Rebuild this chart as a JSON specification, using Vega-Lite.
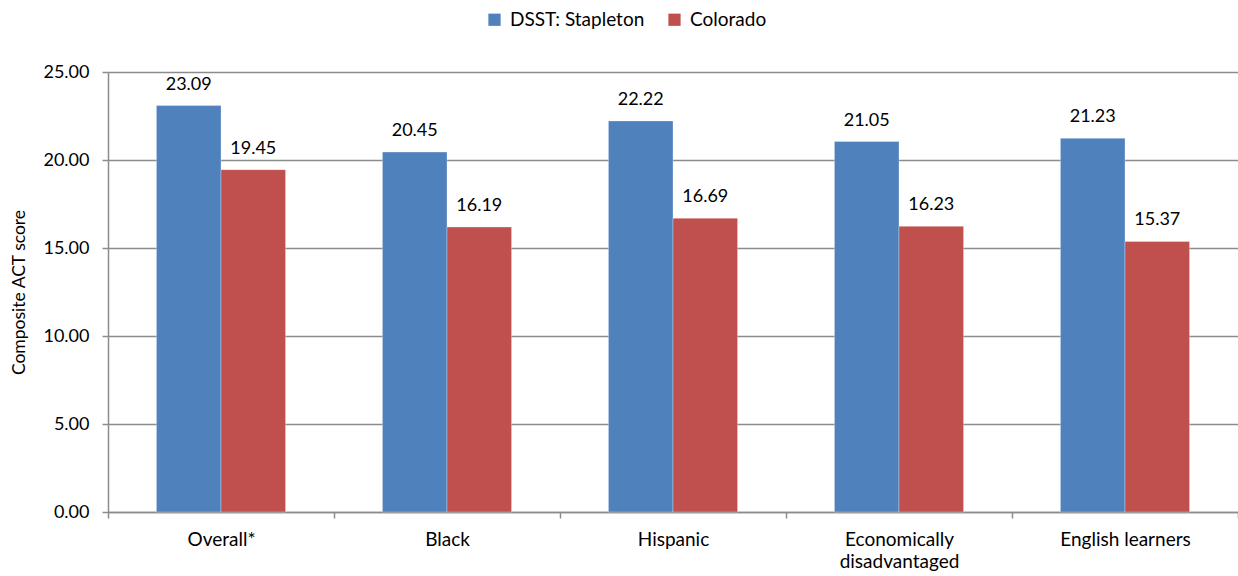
{
  "$schema": "https://vega.github.io/schema/vega-lite/v6.json",
  "width": 1130,
  "height": 440,
  "autosize": {"type": "none"},
  "padding": {"left": 108, "top": 72, "right": 0, "bottom": 64},
  "background": "white",
  "config": {
    "view": {"stroke": null},
    "font": "Lato",
    "text": {"font": "Lato"}
  },
  "data": {
    "values": [
      {"group": "Overall*", "series": "DSST: Stapleton", "score": 23.09},
      {"group": "Overall*", "series": "Colorado", "score": 19.45},
      {"group": "Black", "series": "DSST: Stapleton", "score": 20.45},
      {"group": "Black", "series": "Colorado", "score": 16.19},
      {"group": "Hispanic", "series": "DSST: Stapleton", "score": 22.22},
      {"group": "Hispanic", "series": "Colorado", "score": 16.69},
      {"group": "Economically disadvantaged", "series": "DSST: Stapleton", "score": 21.05},
      {"group": "Economically disadvantaged", "series": "Colorado", "score": 16.23},
      {"group": "English learners", "series": "DSST: Stapleton", "score": 21.23},
      {"group": "English learners", "series": "Colorado", "score": 15.37}
    ]
  },
  "encoding": {
    "x": {
      "field": "group",
      "type": "nominal",
      "sort": ["Overall*", "Black", "Hispanic", "Economically disadvantaged", "English learners"],
      "scale": {"paddingInner": 0, "paddingOuter": 0},
      "axis": {
        "title": null,
        "labelAngle": 0,
        "labelFont": "Lato",
        "labelFontSize": 19,
        "labelColor": "#000000",
        "labelPadding": 12,
        "labelLineHeight": 22,
        "labelExpr": "datum.label == 'Economically disadvantaged' ? ['Economically', 'disadvantaged'] : datum.label",
        "domainColor": "#8c8c8c",
        "domainWidth": 1.5,
        "tickColor": "#8c8c8c",
        "tickWidth": 1.5,
        "tickSize": 6,
        "tickBand": "extent",
        "grid": false
      }
    },
    "xOffset": {
      "field": "series",
      "type": "nominal",
      "sort": ["DSST: Stapleton", "Colorado"],
      "scale": {"paddingInner": 0, "paddingOuter": 0.75}
    }
  },
  "layer": [
    {
      "mark": {"type": "bar", "stroke": "#ffffff", "strokeWidth": 0.5, "strokeOpacity": 0.6},
      "encoding": {
        "y": {
          "field": "score",
          "type": "quantitative",
          "scale": {"domain": [0, 25], "nice": false},
          "axis": {
            "title": "Composite ACT score",
            "titleFont": "Lato",
            "titleFontSize": 17.5,
            "titleFontWeight": "normal",
            "titleColor": "#000000",
            "titlePadding": 14,
            "values": [0, 5, 10, 15, 20, 25],
            "format": ".2f",
            "labelFont": "Lato",
            "labelFontSize": 18,
            "labelColor": "#000000",
            "labelPadding": 13,
            "domainColor": "#8c8c8c",
            "domainWidth": 1.5,
            "tickColor": "#8c8c8c",
            "tickWidth": 1.5,
            "tickSize": 6,
            "grid": true,
            "gridColor": "#8c8c8c",
            "gridWidth": 1.5
          }
        },
        "color": {
          "field": "series",
          "type": "nominal",
          "sort": ["DSST: Stapleton", "Colorado"],
          "scale": {"domain": ["DSST: Stapleton", "Colorado"], "range": ["#4F81BD", "#C0504D"]},
          "legend": {
            "title": null,
            "orient": "none",
            "direction": "horizontal",
            "legendX": 377,
            "legendY": -62,
            "symbolType": "square",
            "symbolSize": 150,
            "symbolStrokeWidth": 0,
            "labelFont": "Lato",
            "labelFontSize": 19,
            "labelColor": "#000000",
            "labelOffset": 6,
            "columnPadding": 20
          }
        }
      }
    },
    {
      "mark": {"type": "text", "baseline": "bottom", "dy": -12, "font": "Lato", "fontSize": 18, "color": "#000000"},
      "encoding": {
        "y": {"field": "score", "type": "quantitative"},
        "text": {"field": "score", "type": "quantitative", "format": ".2f"}
      }
    }
  ]
}
